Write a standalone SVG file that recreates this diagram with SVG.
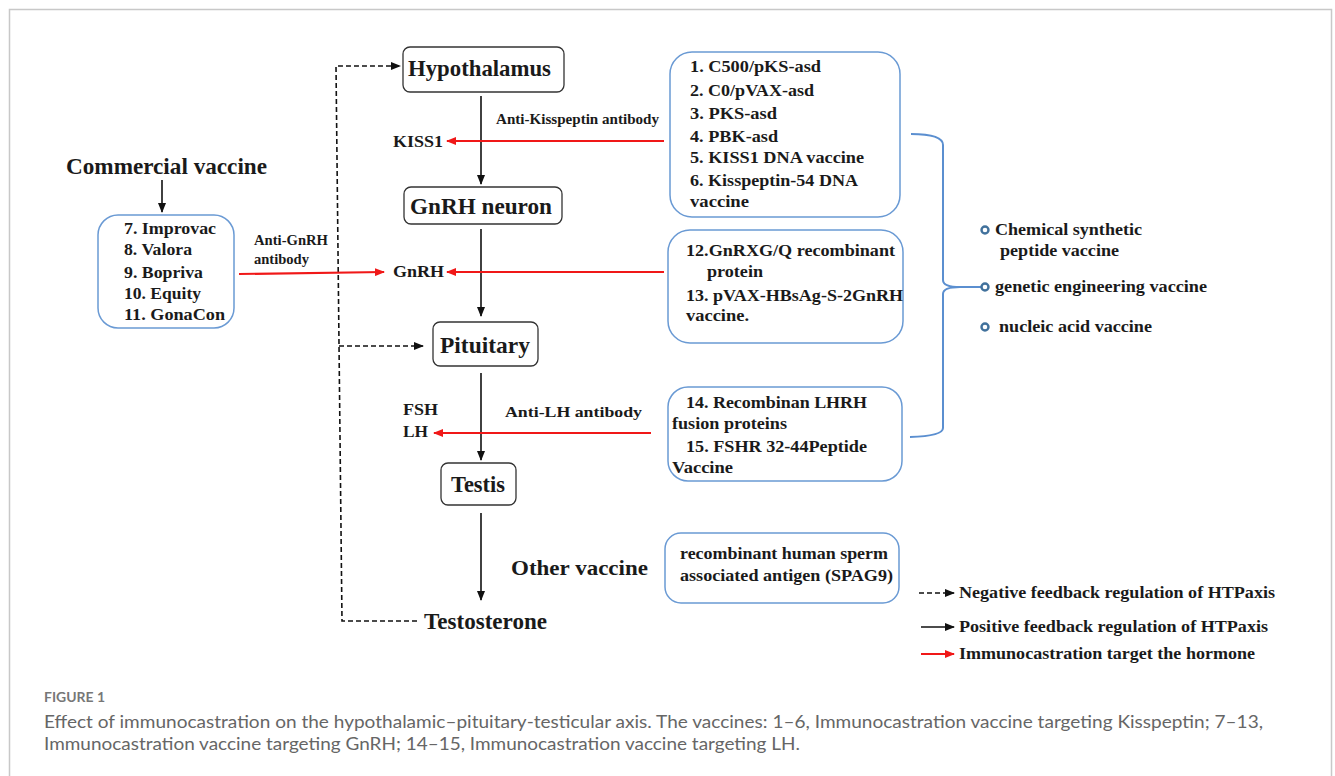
<svg xmlns="http://www.w3.org/2000/svg" width="1335" height="776" viewBox="0 0 1335 776">
<defs>
<marker id="ah" markerUnits="userSpaceOnUse" markerWidth="10" markerHeight="8" refX="9" refY="4" orient="auto"><path d="M0,0 L10,4 L0,8 Z" fill="#111"/></marker>
<marker id="ahr" markerUnits="userSpaceOnUse" markerWidth="10" markerHeight="8" refX="9" refY="4" orient="auto"><path d="M0,0 L10,4 L0,8 Z" fill="#f01818"/></marker>
<style>
.t{font-family:"Liberation Serif","Times New Roman",serif;font-weight:bold;fill:#1a1a1a}
.big{font-size:23px}
.mid{font-size:16px}
.sm{font-size:14px}
.nb{fill:#fff;stroke:#333;stroke-width:1.3}
.vb{fill:#fff;stroke:#6a9ad4;stroke-width:1.5}
.blk{stroke:#111;stroke-width:1.6;fill:none}
.dsh{stroke:#111;stroke-width:1.6;fill:none;stroke-dasharray:5 3}
.red{stroke:#f01818;stroke-width:2.2;fill:none}
.bul{fill:#fff;stroke:#41719c;stroke-width:2.4}
.cap{font-family:Lato,"Open Sans",sans-serif;fill:#666}
</style>
</defs>
<rect x="0" y="0" width="1335" height="776" fill="#fff"/>
<rect x="9.5" y="9.5" width="1322" height="800" fill="none" stroke="#c8c8c8" stroke-width="1.5"/>

<g id="connectors">
<line class="blk" x1="481" y1="96" x2="481" y2="184" marker-end="url(#ah)"/>
<line class="blk" x1="481" y1="229" x2="481" y2="316" marker-end="url(#ah)"/>
<line class="blk" x1="481" y1="373" x2="481" y2="460" marker-end="url(#ah)"/>
<line class="blk" x1="481" y1="513" x2="481" y2="600" marker-end="url(#ah)"/>
<line class="blk" x1="162" y1="180" x2="162" y2="212" marker-end="url(#ah)"/>
<path class="dsh" d="M417,621 H342 L336,66 H400" marker-end="url(#ah)"/>
<line class="dsh" x1="339" y1="346" x2="423" y2="346" marker-end="url(#ah)"/>
<line class="red" x1="664" y1="141" x2="447" y2="141" marker-end="url(#ahr)"/>
<line class="red" x1="664" y1="272" x2="447" y2="272" marker-end="url(#ahr)"/>
<line class="red" x1="239" y1="274" x2="384" y2="272" marker-end="url(#ahr)"/>
<line class="red" x1="651" y1="433" x2="434" y2="433" marker-end="url(#ahr)"/>
<path d="M911,134 Q943,134 943,145 V280 Q943,287 960,287 Q943,287 943,294 V428 Q943,436 910,437" fill="none" stroke="#5b8fd0" stroke-width="2"/>
<line x1="960" y1="287" x2="982" y2="287" stroke="#5b8fd0" stroke-width="2"/>
</g>

<g id="hypothalamus">
<rect class="nb" x="403" y="47" width="161" height="45" rx="7"/>
<text class="t big" x="408" y="76" textLength="143" lengthAdjust="spacingAndGlyphs">Hypothalamus</text>
</g>
<g id="gnrh-neuron">
<rect class="nb" x="404" y="187" width="158" height="37" rx="7"/>
<text class="t big" x="410" y="214" textLength="142" lengthAdjust="spacingAndGlyphs">GnRH neuron</text>
</g>
<g id="pituitary">
<rect class="nb" x="433" y="322" width="105" height="44" rx="7"/>
<text class="t big" x="440" y="353" textLength="90" lengthAdjust="spacingAndGlyphs">Pituitary</text>
</g>
<g id="testis">
<rect class="nb" x="441" y="463" width="75" height="42" rx="7"/>
<text class="t big" x="451" y="492" textLength="54" lengthAdjust="spacingAndGlyphs">Testis</text>
</g>
<g id="testosterone">
<text class="t big" x="424" y="629" textLength="123" lengthAdjust="spacingAndGlyphs">Testosterone</text>
</g>

<g id="commercial-vaccine">
<text class="t big" x="66" y="174" textLength="201" lengthAdjust="spacingAndGlyphs">Commercial vaccine</text>
</g>
<g id="commercial-box">
<rect class="vb" x="98" y="215" width="136" height="113" rx="20"/>
<text class="t mid" x="124" y="234" textLength="92" lengthAdjust="spacingAndGlyphs">7. Improvac</text>
<text class="t mid" x="124" y="255" textLength="68" lengthAdjust="spacingAndGlyphs">8. Valora</text>
<text class="t mid" x="124" y="278" textLength="79" lengthAdjust="spacingAndGlyphs">9. Bopriva</text>
<text class="t mid" x="124" y="299" textLength="77" lengthAdjust="spacingAndGlyphs">10. Equity</text>
<text class="t mid" x="124" y="320" textLength="101" lengthAdjust="spacingAndGlyphs">11. GonaCon</text>
</g>

<g id="labels">
<text class="t sm" x="496" y="124" textLength="163" lengthAdjust="spacingAndGlyphs">Anti-Kisspeptin  antibody</text>
<text class="t mid" x="393" y="147" textLength="50" lengthAdjust="spacingAndGlyphs">KISS1</text>
<text class="t sm" x="254" y="245" textLength="74" lengthAdjust="spacingAndGlyphs">Anti-GnRH</text>
<text class="t sm" x="254" y="264" textLength="55" lengthAdjust="spacingAndGlyphs">antibody</text>
<text class="t mid" x="393" y="277" textLength="51" lengthAdjust="spacingAndGlyphs">GnRH</text>
<text class="t mid" x="403" y="415" textLength="35" lengthAdjust="spacingAndGlyphs">FSH</text>
<text class="t mid" x="403" y="437" textLength="25" lengthAdjust="spacingAndGlyphs">LH</text>
<text class="t sm" x="505" y="417" textLength="137" lengthAdjust="spacingAndGlyphs">Anti-LH  antibody</text>
</g>

<g id="kisspeptin-vaccines">
<rect class="vb" x="670" y="52" width="230" height="165" rx="22"/>
<text class="t mid" x="690" y="72" textLength="131" lengthAdjust="spacingAndGlyphs">1. C500/pKS-asd</text>
<text class="t mid" x="690" y="96" textLength="124" lengthAdjust="spacingAndGlyphs">2. C0/pVAX-asd</text>
<text class="t mid" x="690" y="119" textLength="87" lengthAdjust="spacingAndGlyphs">3. PKS-asd</text>
<text class="t mid" x="690" y="142" textLength="88" lengthAdjust="spacingAndGlyphs">4. PBK-asd</text>
<text class="t mid" x="690" y="163" textLength="174" lengthAdjust="spacingAndGlyphs">5. KISS1 DNA vaccine</text>
<text class="t mid" x="690" y="186" textLength="168" lengthAdjust="spacingAndGlyphs">6. Kisspeptin-54 DNA</text>
<text class="t mid" x="690" y="207" textLength="59" lengthAdjust="spacingAndGlyphs">vaccine</text>
</g>

<g id="gnrh-vaccines">
<rect class="vb" x="668" y="230" width="235" height="113" rx="22"/>
<text class="t mid" x="686" y="256" textLength="209" lengthAdjust="spacingAndGlyphs">12.GnRXG/Q recombinant</text>
<text class="t mid" x="707" y="277" textLength="56" lengthAdjust="spacingAndGlyphs">protein</text>
<text class="t mid" x="686" y="301" textLength="217" lengthAdjust="spacingAndGlyphs">13. pVAX-HBsAg-S-2GnRH</text>
<text class="t mid" x="686" y="321" textLength="63" lengthAdjust="spacingAndGlyphs">vaccine.</text>
</g>

<g id="lh-vaccines">
<rect class="vb" x="668" y="387" width="234" height="94" rx="20"/>
<text class="t mid" x="686" y="408" textLength="181" lengthAdjust="spacingAndGlyphs">14. Recombinan LHRH</text>
<text class="t mid" x="672" y="429" textLength="115" lengthAdjust="spacingAndGlyphs">fusion proteins</text>
<text class="t mid" x="686" y="452" textLength="181" lengthAdjust="spacingAndGlyphs">15. FSHR 32-44Peptide</text>
<text class="t mid" x="672" y="473" textLength="61" lengthAdjust="spacingAndGlyphs">Vaccine</text>
</g>

<g id="other-vaccine">
<text class="t" style="font-size:21px" x="511" y="575" textLength="137" lengthAdjust="spacingAndGlyphs">Other vaccine</text>
</g>
<g id="spag9-box">
<rect class="vb" x="665" y="533" width="234" height="70" rx="16"/>
<text class="t mid" x="680" y="559" textLength="208" lengthAdjust="spacingAndGlyphs">recombinant human sperm</text>
<text class="t mid" x="680" y="581" textLength="213" lengthAdjust="spacingAndGlyphs">associated antigen (SPAG9)</text>
</g>

<g id="vaccine-types">
<circle class="bul" cx="985" cy="230" r="3.5"/>
<text class="t mid" x="995" y="235" textLength="147" lengthAdjust="spacingAndGlyphs">Chemical synthetic</text>
<text class="t mid" x="1000" y="256" textLength="119" lengthAdjust="spacingAndGlyphs">peptide vaccine</text>
<circle class="bul" cx="985" cy="287" r="3.5"/>
<text class="t mid" x="995" y="292" textLength="212" lengthAdjust="spacingAndGlyphs">genetic engineering vaccine</text>
<circle class="bul" cx="985" cy="327" r="3.5"/>
<text class="t mid" x="999" y="332" textLength="153" lengthAdjust="spacingAndGlyphs">nucleic acid vaccine</text>
</g>

<g id="legend">
<line class="dsh" x1="919" y1="593" x2="954" y2="593" marker-end="url(#ah)"/>
<text class="t mid" x="959" y="598" textLength="316" lengthAdjust="spacingAndGlyphs">Negative feedback regulation of HTPaxis</text>
<line class="blk" x1="921" y1="627" x2="954" y2="627" marker-end="url(#ah)"/>
<text class="t mid" x="959" y="632" textLength="309" lengthAdjust="spacingAndGlyphs">Positive feedback regulation of HTPaxis</text>
<line class="red" x1="921" y1="654" x2="954" y2="654" marker-end="url(#ahr)"/>
<text class="t mid" x="959" y="659" textLength="296" lengthAdjust="spacingAndGlyphs">Immunocastration target the hormone</text>
</g>

<g id="caption">
<text class="cap" x="44" y="702" style="font-size:13px;font-weight:bold;fill:#777" textLength="61" lengthAdjust="spacingAndGlyphs">FIGURE 1</text>
<text class="cap" x="44" y="728" style="font-size:18px" textLength="1219" lengthAdjust="spacingAndGlyphs">Effect of immunocastration on the hypothalamic–pituitary-testicular axis. The vaccines: 1–6, Immunocastration vaccine targeting Kisspeptin; 7–13,</text>
<text class="cap" x="44" y="750" style="font-size:18px" textLength="756" lengthAdjust="spacingAndGlyphs">Immunocastration vaccine targeting GnRH; 14–15, Immunocastration vaccine targeting LH.</text>
</g>
</svg>
